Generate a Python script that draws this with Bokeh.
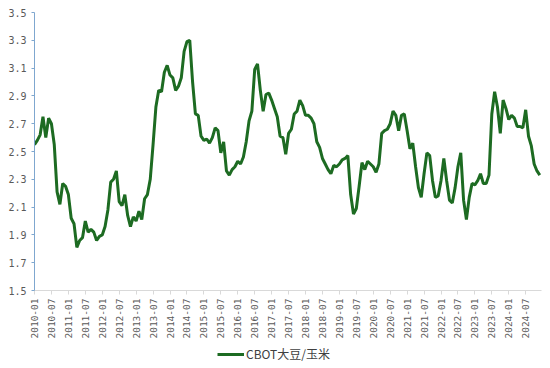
import pandas as pd
from bokeh.plotting import figure
from bokeh.layouts import column
from bokeh.models import ColumnDataSource, FixedTicker, Range1d, Legend, LegendItem
from bokeh.embed import file_html
from bokeh.resources import INLINE

# ---- data ----
months = list(pd.period_range("2010-01", periods=180, freq="M").strftime("%Y-%m"))
ratio = [
    2.55, 2.58, 2.62, 2.75, 2.60, 2.74, 2.70, 2.55, 2.21, 2.12, 2.27, 2.25,
    2.19, 2.02, 1.98, 1.81, 1.86, 1.88, 2.00, 1.92, 1.94, 1.92, 1.86, 1.89,
    1.90, 1.96, 2.08, 2.28, 2.30, 2.36, 2.14, 2.11, 2.19, 2.04, 1.96, 2.03,
    2.00, 2.07, 2.01, 2.16, 2.19, 2.30, 2.55, 2.82, 2.94, 2.93, 3.07, 3.12,
    3.05, 3.03, 2.94, 2.97, 3.03, 3.22, 3.29, 3.30, 3.00, 2.77, 2.76, 2.61,
    2.58, 2.59, 2.56, 2.60, 2.67, 2.65, 2.49, 2.57, 2.36, 2.33, 2.37, 2.39,
    2.43, 2.41, 2.46, 2.57, 2.72, 2.79, 3.09, 3.13, 2.94, 2.79, 2.91, 2.92,
    2.87, 2.81, 2.75, 2.61, 2.60, 2.48, 2.63, 2.66, 2.77, 2.79, 2.87, 2.83,
    2.76, 2.76, 2.74, 2.70, 2.57, 2.53, 2.45, 2.41, 2.37, 2.34, 2.40, 2.39,
    2.41, 2.44, 2.45, 2.47, 2.19, 2.05, 2.09, 2.25, 2.42, 2.37, 2.43, 2.41,
    2.39, 2.35, 2.41, 2.63, 2.65, 2.66, 2.70, 2.79, 2.76, 2.65, 2.76, 2.77,
    2.65, 2.52, 2.56, 2.39, 2.24, 2.17, 2.34, 2.49, 2.47, 2.29, 2.17, 2.18,
    2.29, 2.45, 2.29, 2.15, 2.13, 2.24, 2.39, 2.49, 2.15, 2.01, 2.17, 2.27,
    2.26, 2.29, 2.34, 2.27, 2.27, 2.33, 2.77, 2.93, 2.82, 2.63, 2.87, 2.81,
    2.73, 2.76, 2.74, 2.68, 2.68, 2.67, 2.80, 2.61, 2.54, 2.41, 2.36, 2.33,
]
series_name = "CBOT大豆/玉米"
y_ticks = [1.5, 1.7, 1.9, 2.1, 2.3, 2.5, 2.7, 2.9, 3.1, 3.3, 3.5]

LINE_COLOR = "#1d6b22"
TICK_FONT = "DejaVu Sans Mono"
idx = list(range(len(months)))
src = ColumnDataSource(dict(x=idx, y=ratio, m=months))

p = figure(width=550, height=344, output_backend="svg", toolbar_location=None,
           x_range=Range1d(0, 179.6), y_range=Range1d(1.5, 3.5),
           min_border_top=12, min_border_right=9, min_border_left=34, min_border_bottom=54)
p.outline_line_color = None
p.xgrid.visible = False
p.ygrid.visible = False

r = p.line("x", "y", source=src, line_color=LINE_COLOR, line_width=3)

# x axis
label_idx = idx[::6]
p.xaxis.ticker = FixedTicker(ticks=label_idx)
p.xaxis.major_label_overrides = {i: months[i] for i in label_idx}
p.xaxis.major_label_orientation = 1.5708
p.xaxis.major_label_text_font = TICK_FONT
p.xaxis.major_label_text_font_size = "9.5px"
p.xaxis.major_label_text_color = "#595959"
p.xaxis.axis_line_color = "#d9d9d9"
p.xaxis.major_tick_line_color = "#d9d9d9"
p.xaxis.major_tick_out = 4
p.xaxis.major_tick_in = 0
p.xaxis.minor_tick_line_color = None
p.xaxis.major_label_standoff = 4

# y axis
p.yaxis.ticker = FixedTicker(ticks=y_ticks)
p.yaxis.major_label_overrides = {t: f"{t:.1f}" for t in y_ticks}
p.yaxis.major_label_text_font = TICK_FONT
p.yaxis.major_label_text_font_size = "10px"
p.yaxis.major_label_text_color = "#595959"
p.yaxis.axis_line_color = "#7fa7cf"
p.yaxis.major_tick_line_color = "#7fa7cf"
p.yaxis.major_tick_out = 3
p.yaxis.major_tick_in = 0
p.yaxis.minor_tick_line_color = None
p.yaxis.major_label_standoff = 5

# legend strip (separate small figure below the chart)
lg = figure(width=550, height=22, output_backend="svg", toolbar_location=None,
            x_axis_location=None, y_axis_location=None,
            x_range=Range1d(1000, 1001), y_range=Range1d(1000, 1001),
            min_border=0)
lg.outline_line_color = None
lg.xgrid.visible = False
lg.ygrid.visible = False
lr = lg.line("x", "y", source=src, line_color=LINE_COLOR, line_width=3)
legend = Legend(items=[LegendItem(label=series_name, renderers=[lr])],
                orientation="horizontal", location=(183, 4),
                border_line_color=None, background_fill_alpha=0,
                label_text_font="Noto Sans CJK SC", label_text_font_size="12px",
                label_text_color="#404040", glyph_width=27, glyph_height=14,
                label_height=14, padding=0, margin=0, label_standoff=2)
lg.add_layout(legend)

open("out.html", "w").write(file_html(column(p, lg), INLINE))
